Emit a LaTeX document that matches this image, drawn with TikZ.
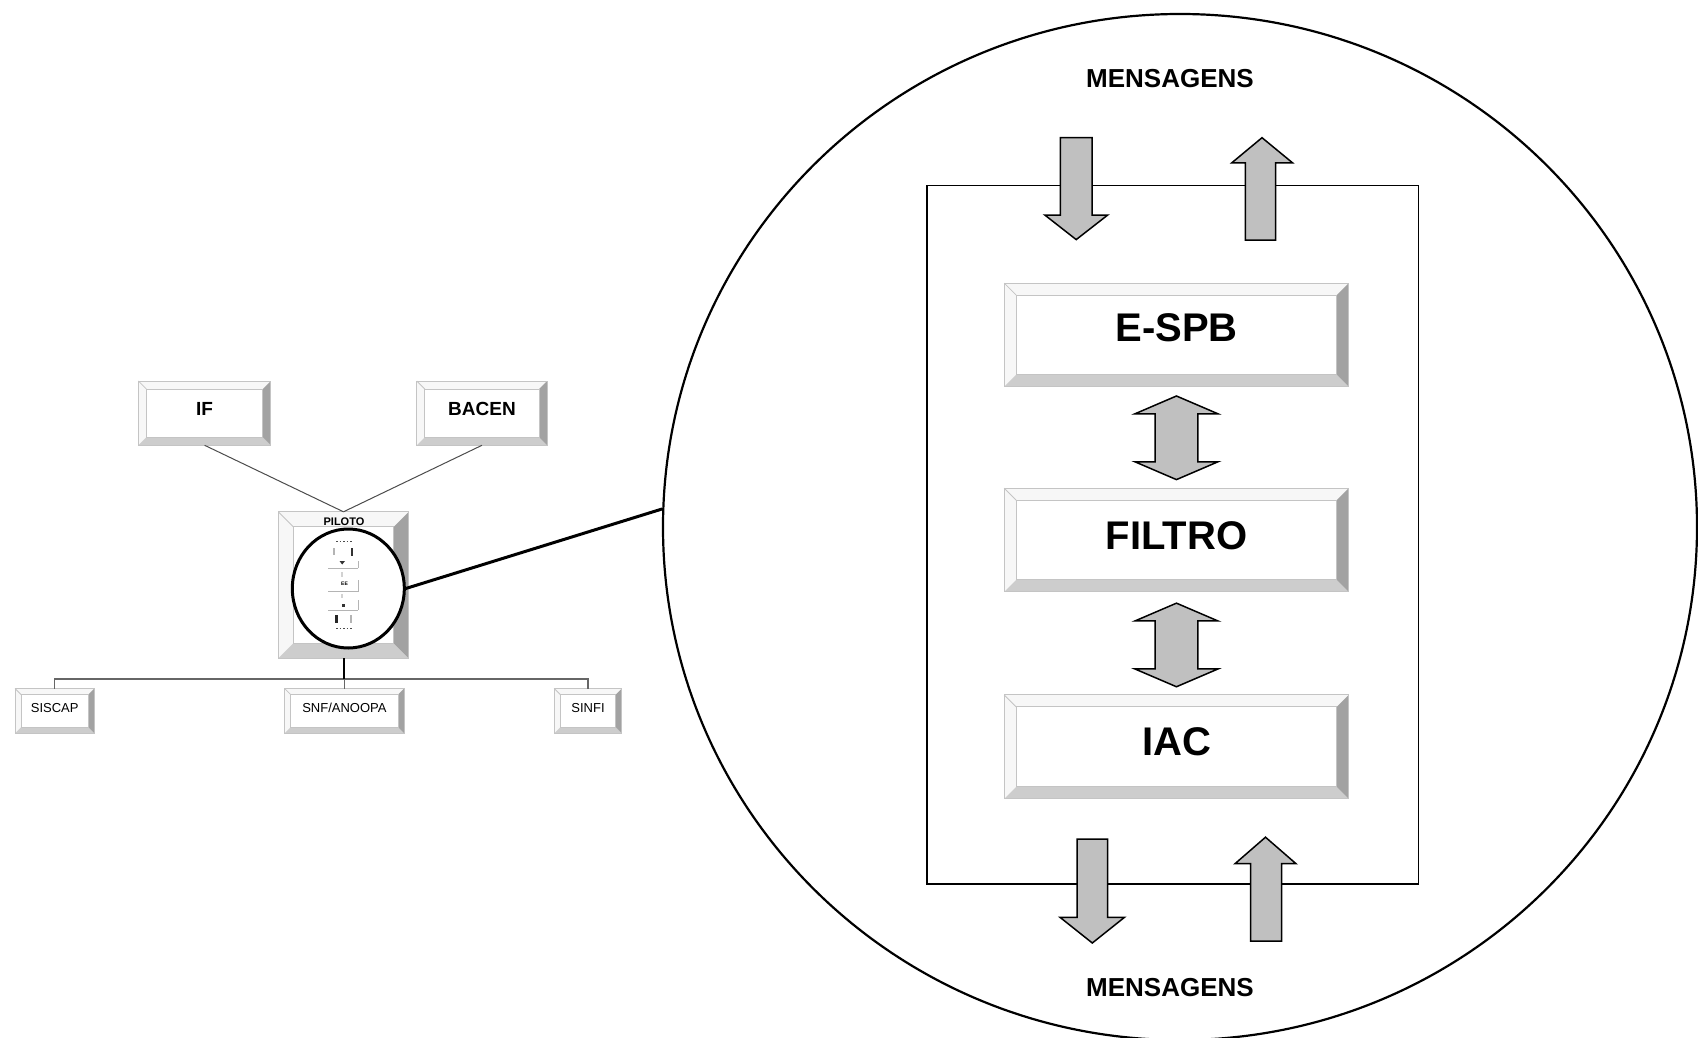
\documentclass[tikz,border=0pt]{standalone}
\usepackage{fontspec}
\setmainfont{Liberation Sans}
\usetikzlibrary{shapes.geometric,calc}
\definecolor{bvlight}{HTML}{F7F7F7}
\definecolor{bvline}{HTML}{C4C4C4}
\definecolor{bvbot}{HTML}{CDCDCD}
\definecolor{bvright}{HTML}{A2A2A2}
\definecolor{arrfill}{HTML}{C0C0C0}
\definecolor{minigray}{HTML}{B4B4B4}
\tikzset{
  bevbox/.style={rectangle, inner sep=0pt, font=\bfseries\fontsize{40}{48}\selectfont},
  smallbox/.style={rectangle, inner sep=0pt, font=\bfseries\fontsize{19}{22}\selectfont},
  tinybox/.style={rectangle, inner sep=0pt, font=\fontsize{13}{16}\selectfont},
  bigarrow/.style={fill=arrfill, draw=black, line width=1.5pt, line join=miter},
  msg/.style={font=\bfseries\fontsize{26}{30}\selectfont, inner sep=0pt},
  thinlink/.style={draw=black!70, line width=1pt},
  buslink/.style={draw=black!60, line width=1.1pt},
  zoomlink/.style={draw=black, line width=3pt},
}
\newcommand{\bevel}[2]{%
  \fill[bvlight] (#1.north west) -- (#1.north east) -- ($(#1.north east)+(-#2,#2)$) -- ($(#1.north west)+(#2,#2)$) -- cycle;
  \fill[bvlight] (#1.north west) -- ($(#1.north west)+(#2,#2)$) -- ($(#1.south west)+(#2,-#2)$) -- (#1.south west) -- cycle;
  \fill[bvbot] (#1.south west) -- (#1.south east) -- ($(#1.south east)+(-#2,-#2)$) -- ($(#1.south west)+(#2,-#2)$) -- cycle;
  \fill[bvright] (#1.north east) -- (#1.south east) -- ($(#1.south east)+(-#2,-#2)$) -- ($(#1.north east)+(-#2,#2)$) -- cycle;
  \draw[bvline, line width=1pt] (#1.north west) rectangle (#1.south east);
  \draw[bvline, line width=1pt] ($(#1.north west)+(#2,#2)$) rectangle ($(#1.south east)+(-#2,-#2)$);
  \draw[bvline, line width=0.8pt] (#1.north west) -- ($(#1.north west)+(#2,#2)$);
}
\newcommand{\fatdouble}[2]{%
  \filldraw[bigarrow] ($(#1.south)+(0,#2)$) -- ++(41.5,17.8) -- ++(-20.2,0) -- ++(0,48) -- ++(20.2,0) -- ++(-41.5,17.8) -- ++(-41.5,-17.8) -- ++(20.2,0) -- ++(0,-48) -- ++(-20.2,0) -- cycle;}
\begin{document}
\begin{tikzpicture}[x=1pt,y=-1pt]
\useasboundingbox (0,0) rectangle (1698,1038);
\fill[white] (0,0) rectangle (1698,1038);

% ---------- big lens ----------
\node[ellipse, draw, line width=2.2pt, minimum width=1034pt, minimum height=1026pt, inner sep=0pt] (lensbig) at (1180,527) {};
\node[rectangle, draw, line width=1.5pt, minimum width=491.9pt, minimum height=698.9pt, inner sep=0pt] (frame) at (1172.75,534.75) {};

\node[bevbox, minimum width=344.1pt, minimum height=103.2pt] (espb) at (1176.45,334.9) {\raisebox{15pt}{E-SPB}};
\bevel{espb}{12}
\node[bevbox, minimum width=344.1pt, minimum height=103.2pt] (filtro) at (1176.45,540.05) {\raisebox{10pt}{FILTRO}};
\bevel{filtro}{12}
\node[bevbox, minimum width=344.1pt, minimum height=103.6pt] (iac) at (1176.45,746.9) {\raisebox{10pt}{IAC}};
\bevel{iac}{12}

\fatdouble{espb}{9.3}
\fatdouble{filtro}{11.3}

% in/out arrows
\filldraw[bigarrow] (1060.4,137.7) -- (1092,137.7) -- (1092,215.1) -- (1107.6,215.1) -- (1076.2,239.6) -- (1044.9,215.1) -- (1060.4,215.1) -- cycle;
\filldraw[bigarrow] (1262,137.7) -- (1292.5,162.8) -- (1275.6,162.8) -- (1275.6,240.2) -- (1245.3,240.2) -- (1245.3,162.8) -- (1231.8,162.8) -- cycle;
\filldraw[bigarrow] (1077,839.2) -- (1107.6,839.2) -- (1107.6,917.3) -- (1124.5,917.3) -- (1092.3,943) -- (1060,917.3) -- (1077,917.3) -- cycle;
\filldraw[bigarrow] (1265.5,837.2) -- (1296,863.7) -- (1281.7,863.7) -- (1281.7,941.1) -- (1250.7,941.1) -- (1250.7,863.7) -- (1235,863.7) -- cycle;

\node[msg] (msgtop) at (1170,79) {MENSAGENS};
\node[msg] (msgbot) at (1170,988) {MENSAGENS};

% ---------- left diagram ----------
\node[smallbox, minimum width=132.1pt, minimum height=63.9pt] (if) at (204.65,413.15) {\raisebox{8pt}{IF}};
\bevel{if}{8}
\node[smallbox, minimum width=129.9pt, minimum height=63.9pt] (bacen) at (481.95,413.15) {\raisebox{8pt}{BACEN}};
\bevel{bacen}{8}

\node[rectangle, inner sep=0pt, minimum width=130pt, minimum height=146pt] (piloto) at (343.5,585) {};
\bevel{piloto}{15}
\node[inner sep=0pt, font=\bfseries\fontsize{11}{12}\selectfont] (pilotolbl) at (344,522) {PILOTO};

\draw[thinlink] (if.south) -- (piloto.north);
\draw[thinlink] (bacen.south) -- (piloto.north);

\node[tinybox, minimum width=79pt, minimum height=44.4pt] (siscap) at (54.7,710.9) {\raisebox{6pt}{SISCAP}};
\bevel{siscap}{6}
\node[tinybox, minimum width=119.2pt, minimum height=44.4pt] (snf) at (344.4,710.9) {\raisebox{6pt}{SNF/ANOOPA}};
\bevel{snf}{6}
\node[tinybox, minimum width=67.2pt, minimum height=44.4pt] (sinfi) at (588,710.9) {\raisebox{6pt}{SINFI}};
\bevel{sinfi}{6}

\coordinate (busy) at (0,679);
\draw[buslink] (siscap.north) -- (siscap.north |- busy) -- (sinfi.north |- busy) -- (sinfi.north);
\draw[buslink] (snf.north) -- (snf.north |- busy);
\draw[black, line width=2pt] (piloto.south) -- (piloto.south |- busy);

% small lens with miniature
\node[ellipse, draw, fill=white, line width=3pt, minimum width=112pt, minimum height=119pt, inner sep=0pt] (lens) at (348.3,588.5) {};
\begin{scope}[line width=1pt]
  \draw[black!70, dash pattern=on 1.5pt off 2pt] (336,541.5) -- (352,541.5);
  \fill[minigray] (332.5,548) rectangle (334.5,555);
  \fill[black!80] (350.5,548) rectangle (352.5,556);
  \fill[black!80] (339.5,561) -- (345,561) -- (342.2,564.5) -- cycle;
  \draw[minigray] (328,568.3) -- (358,568.3) (358,561) -- (358,568.3);
  \fill[minigray!60] (341,572) rectangle (343,577);
  \node[inner sep=0pt, font=\bfseries\fontsize{5}{6}\selectfont] (minitext) at (344.5,583.5) {EE};
  \draw[minigray] (328,591.7) -- (358,591.7) (358,580) -- (358,591.7);
  \fill[minigray!60] (341,593.5) rectangle (343,598);
  \fill[black!80] (341.5,604) rectangle (345,606.5);
  \draw[minigray] (328,610) -- (358,610) (358,600) -- (358,610);
  \fill[black!85] (335,615) rectangle (337.5,623);
  \fill[minigray] (349.8,615) rectangle (351.8,623);
  \draw[black!70, dash pattern=on 1.5pt off 2pt] (336,628.5) -- (352,628.5);
\end{scope}

\draw[zoomlink] (lens.east) -- (lensbig.178.6);
\end{tikzpicture}
\end{document}
